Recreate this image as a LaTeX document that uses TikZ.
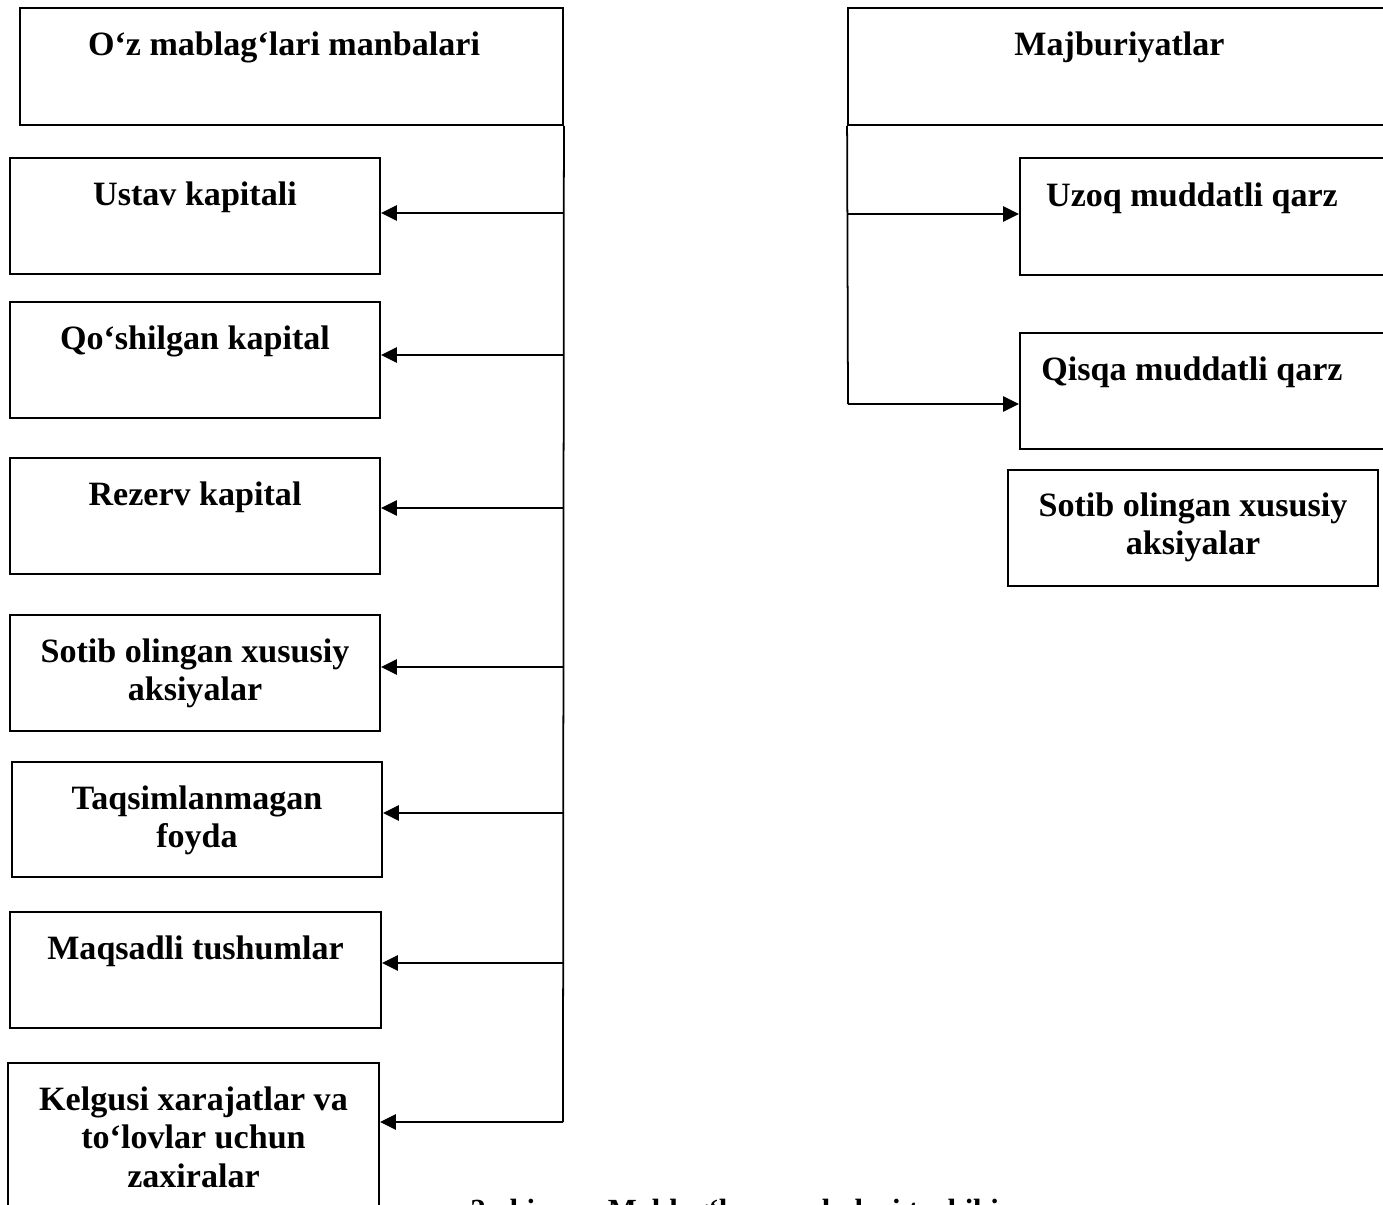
\documentclass[tikz,border=0pt]{standalone}
\usepackage{fontspec}
\setmainfont{Liberation Serif}
\usetikzlibrary{arrows.meta}
\tikzset{
  box/.style={draw, line width=1.1pt, minimum width=7.4cm, minimum height=2.32cm, inner sep=0pt},
  lbl/.style={anchor=north, inner sep=0pt, align=center, font=\bfseries\fontsize{19.4}{22.1}\selectfont},
  arr/.style={line width=1.5pt, -{Triangle[length=0.32cm,width=0.3cm]}},
  ln/.style={line width=1.0pt}
}
\begin{document}
\begin{tikzpicture}[x=0.02cm, y=-0.02cm]
\useasboundingbox (0,0) rectangle (1383,1204);
\clip (0,0) rectangle (1383,1204);
\fill[white] (0,0) rectangle (1383,1204);
% left column
\node[box, minimum width=10.86cm, minimum height=2.34cm] (topL) at (291.5,66.5) {};
\node[lbl] (topLt) at (284,31) {O‘z mablag‘lari manbalari};
\node[box] (b1) at (195,216) {};
\node[lbl] (b1t) at (195,181) {Ustav kapitali};
\node[box] (b2) at (195,360) {};
\node[lbl] (b2t) at (195,325) {Qo‘shilgan kapital};
\node[box] (b3) at (195,516) {};
\node[lbl] (b3t) at (195,481) {Rezerv kapital};
\node[box] (b4) at (195,673) {};
\node[lbl] (b4t) at (195,638) {Sotib olingan xususiy\\aksiyalar};
\node[box, minimum height=2.30cm] (b5) at (197,819.5) {};
\node[lbl] (b5t) at (197,785) {Taqsimlanmagan\\foyda};
\node[box, minimum width=7.42cm] (b6) at (195.5,970) {};
\node[lbl] (b6t) at (195.5,935) {Maqsadli tushumlar};
\node[box, minimum width=7.42cm, minimum height=3.4cm] (b7) at (193.5,1148) {};
\node[lbl] (b7t) at (193.5,1086) {Kelgusi xarajatlar va\\to‘lovlar uchun\\zaxiralar};
% left connectors
\coordinate (v1) at (563,213);
\coordinate (v2) at (563,355);
\coordinate (v3) at (563,508);
\coordinate (v4) at (563,667);
\coordinate (v5) at (563,813);
\coordinate (v6) at (563,963);
\coordinate (v7) at (563,1122);
\draw[ln] (topL.south east) -- (v7);
\draw[arr] (v1) -- (v1 -| b1.east);
\draw[arr] (v2) -- (v2 -| b2.east);
\draw[arr] (v3) -- (v3 -| b3.east);
\draw[arr] (v4) -- (v4 -| b4.east);
\draw[arr] (v5) -- (v5 -| b5.east);
\draw[arr] (v6) -- (v6 -| b6.east);
\draw[arr] (v7) -- (v7 -| b7.east);
% right column
\node[box, minimum width=10.86cm, minimum height=2.34cm] (topR) at (1119.5,66.5) {};
\node[lbl] (topRt) at (1119.5,31) {Majburiyatlar};
\node[box, minimum width=7.5cm, minimum height=2.34cm] (u1) at (1207.5,216.5) {};
\node[lbl] (u1t) at (1192,182) {Uzoq muddatli qarz};
\node[box, minimum width=7.5cm, minimum height=2.32cm] (u2) at (1207.5,391) {};
\node[lbl] (u2t) at (1192,356) {Qisqa muddatli qarz};
\node[box, minimum height=2.32cm] (sR) at (1193,528) {};
\node[lbl] (sRt) at (1193,492) {Sotib olingan xususiy\\aksiyalar};
\coordinate (r1) at (848,214);
\coordinate (r2) at (848,404);
\draw[ln] (topR.south west) -- (r2);
\draw[arr] (r1) -- (r1 -| u1.west);
\draw[arr] (r2) -- (r2 -| u2.west);
% caption (cut off at the bottom edge, as in the reference)
\node[anchor=north west, inner sep=0pt, font=\bfseries\fontsize{17.5}{20}\selectfont] (cap) at (470,1199) {2-chizma. Mablag‘lar manbalari tarkibi};
\end{tikzpicture}
\end{document}
